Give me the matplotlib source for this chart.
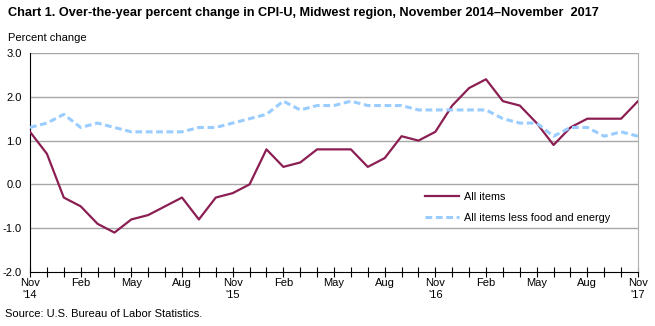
import matplotlib

matplotlib.use("Agg")
import matplotlib.pyplot as plt

plt.rcParams["font.family"] = ["Liberation Sans", "DejaVu Sans"]

months = ["Nov", "Dec", "Jan", "Feb", "Mar", "Apr", "May", "Jun", "Jul", "Aug", "Sep", "Oct"] * 3 + ["Nov"]
all_items = [
    1.2, 0.7, -0.3, -0.5, -0.9, -1.1, -0.8, -0.7, -0.5, -0.3, -0.8, -0.3,
    -0.2, 0.0, 0.8, 0.4, 0.5, 0.8, 0.8, 0.8, 0.4, 0.6, 1.1, 1.0,
    1.2, 1.8, 2.2, 2.4, 1.9, 1.8, 1.4, 0.9, 1.3, 1.5, 1.5, 1.5,
    1.9,
]
core = [
    1.3, 1.4, 1.6, 1.3, 1.4, 1.3, 1.2, 1.2, 1.2, 1.2, 1.3, 1.3,
    1.4, 1.5, 1.6, 1.9, 1.7, 1.8, 1.8, 1.9, 1.8, 1.8, 1.8, 1.7,
    1.7, 1.7, 1.7, 1.7, 1.5, 1.4, 1.4, 1.1, 1.3, 1.3, 1.1, 1.2,
    1.1,
]
years = {0: "'14", 12: "'15", 24: "'16", 36: "'17"}
y_ticks = [-2.0, -1.0, 0.0, 1.0, 2.0, 3.0]

fig = plt.figure(figsize=(6.55, 3.26), dpi=100)
ax = fig.add_axes([30 / 655, 1 - 272 / 326, 608 / 655, 219 / 326])

x = list(range(len(months)))
ax.plot(x, all_items, color="#8B1E52", lw=1.6, label="All items", zorder=3)
ax.plot(x, core, color="#99CCFF", lw=2.2, ls=(0, (2.2, 1.2)), label="All items less food and energy", zorder=3)

ax.set_xlim(0, len(months) - 1)
ax.set_ylim(-2, 3)
ax.set_yticks(y_ticks)
ax.set_yticklabels([f"{v:.1f}" for v in y_ticks])
for v in y_ticks[1:]:
    ax.axhline(v, color="#A8A8A8", lw=1.0, zorder=1)

major = [i for i, m in enumerate(months) if m in ("Nov", "Feb", "May", "Aug")]
ax.set_xticks(x, minor=True)
ax.set_xticks(major)
ax.set_xticklabels([months[i] + ("\n" + years[i] if i in years else "") for i in major])
ax.tick_params(axis="x", which="both", direction="inout", length=7, width=0.8, labelsize=8, pad=1)
ax.tick_params(axis="y", length=0, labelsize=8, pad=6)

ax.spines["top"].set_visible(False)
ax.spines["right"].set_color("#B0B0B0")
ax.spines["left"].set_color("black")
ax.spines["bottom"].set_color("black")

ax.legend(loc="upper left", bbox_to_anchor=(0.633, 0.41), frameon=False, fontsize=7.8,
          handlelength=3.2, labelspacing=1.0, handletextpad=0.4)

fig.text(8 / 655, 1 - 13 / 326, "Chart 1. Over-the-year percent change in CPI-U, Midwest region, November 2014\u2013November  2017",
         fontsize=9.15, fontweight="bold", va="center", ha="left")
fig.text(8 / 655, 1 - 38 / 326, "Percent change", fontsize=8, va="center", ha="left")
fig.text(5 / 655, 1 - 314 / 326, "Source: U.S. Bureau of Labor Statistics.", fontsize=8, va="center", ha="left")

fig.savefig("out.png", dpi=100)
